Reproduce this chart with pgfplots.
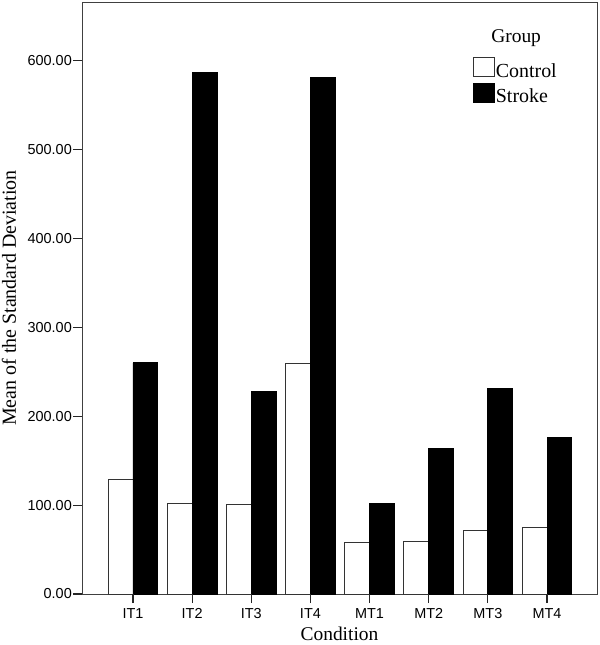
\documentclass[border=0pt]{standalone}
\usepackage{fontspec}
\setmainfont{Liberation Serif}
\newfontfamily\arialfont{Liberation Sans}
\usepackage{pgfplots}
\pgfplotsset{compat=1.18}

\begin{document}
\begin{tikzpicture}
\begin{axis}[
  name=ax,
  scale only axis, clip=false,
  width=515bp, height=592bp,
  xmin=-0.862, xmax=7.845,
  ymin=0, ymax=666,
  xtick={0,1,2,3,4,5,6,7},
  xticklabels={IT1,IT2,IT3,IT4,MT1,MT2,MT3,MT4},
  ytick={0,100,200,300,400,500,600},
  /pgf/number format/assume math mode=true,
  yticklabel style={/pgf/number format/fixed, /pgf/number format/fixed zerofill,
    /pgf/number format/precision=2, inner sep=1bp},
  xticklabel style={inner sep=1bp, yshift=-4bp},
  tick label style={font=\arialfont\fontsize{14.5}{17}\selectfont},
  xtick pos=bottom, ytick pos=left, tick align=outside, major tick length=9bp,
  xtick style={black!85, line width=1.1bp}, ytick style={black!85, line width=1.1bp},
  axis line style={black!75, line width=0.8bp},
  xlabel={Condition}, ylabel={Mean of the Standard Deviation},
  label style={font=\fontsize{19.5}{22}\selectfont},
  xlabel style={at={(axis description cs:0.5,-0.0676)}, anchor=center},
  ylabel style={at={(axis description cs:-0.142,0.5)}, anchor=center, font=\fontsize{20}{22}\selectfont},
  legend cell align=left,
  legend style={at={(rel axis cs:0.759,0.907)}, anchor=north west, draw=none, fill=none,
    inner sep=0pt, row sep=3bp, font=\fontsize{20}{22}\selectfont,
    nodes={inner sep=1bp}},
  legend image code/.code={\draw[#1] (0bp,-5.5bp) rectangle (21bp,13.5bp);},
]
\addplot[ybar, bar width=0.42, bar shift=-0.21, fill=white, draw=black!80, line width=0.8bp] coordinates {
  (0,129) (1,102) (2,101) (3,259) (4,57.7) (5,59.6) (6,72) (7,75)};
\addplot[ybar, bar width=0.42, bar shift=0.21, fill=black, draw=black, line width=0.8bp] coordinates {
  (0,260) (1,587) (2,228) (3,581.5) (4,101.6) (5,163.8) (6,231) (7,175.8)};
\legend{Control, Stroke}
\node[font=\fontsize{19.5}{22}\selectfont] at (rel axis cs:0.843,0.939) {Group};
% tick marks
\draw[black!85, line width=1.1bp] (axis cs:0,0) -- ([yshift=-9bp]axis cs:0,0);
\draw[black!85, line width=1.1bp] (axis cs:1,0) -- ([yshift=-9bp]axis cs:1,0);
\draw[black!85, line width=1.1bp] (axis cs:2,0) -- ([yshift=-9bp]axis cs:2,0);
\draw[black!85, line width=1.1bp] (axis cs:3,0) -- ([yshift=-9bp]axis cs:3,0);
\draw[black!85, line width=1.1bp] (axis cs:4,0) -- ([yshift=-9bp]axis cs:4,0);
\draw[black!85, line width=1.1bp] (axis cs:5,0) -- ([yshift=-9bp]axis cs:5,0);
\draw[black!85, line width=1.1bp] (axis cs:6,0) -- ([yshift=-9bp]axis cs:6,0);
\draw[black!85, line width=1.1bp] (axis cs:7,0) -- ([yshift=-9bp]axis cs:7,0);
\draw[black!85, line width=1.1bp] (axis cs:-0.862,0) -- ([xshift=-9bp]axis cs:-0.862,0);
\draw[black!85, line width=1.1bp] (axis cs:-0.862,100) -- ([xshift=-9bp]axis cs:-0.862,100);
\draw[black!85, line width=1.1bp] (axis cs:-0.862,200) -- ([xshift=-9bp]axis cs:-0.862,200);
\draw[black!85, line width=1.1bp] (axis cs:-0.862,300) -- ([xshift=-9bp]axis cs:-0.862,300);
\draw[black!85, line width=1.1bp] (axis cs:-0.862,400) -- ([xshift=-9bp]axis cs:-0.862,400);
\draw[black!85, line width=1.1bp] (axis cs:-0.862,500) -- ([xshift=-9bp]axis cs:-0.862,500);
\draw[black!85, line width=1.1bp] (axis cs:-0.862,600) -- ([xshift=-9bp]axis cs:-0.862,600);
\end{axis}
\pgfresetboundingbox
\path ([shift={(-82bp,-51bp)}]ax.south west) rectangle ([shift={(3bp,2bp)}]ax.north east);
\end{tikzpicture}
\end{document}
